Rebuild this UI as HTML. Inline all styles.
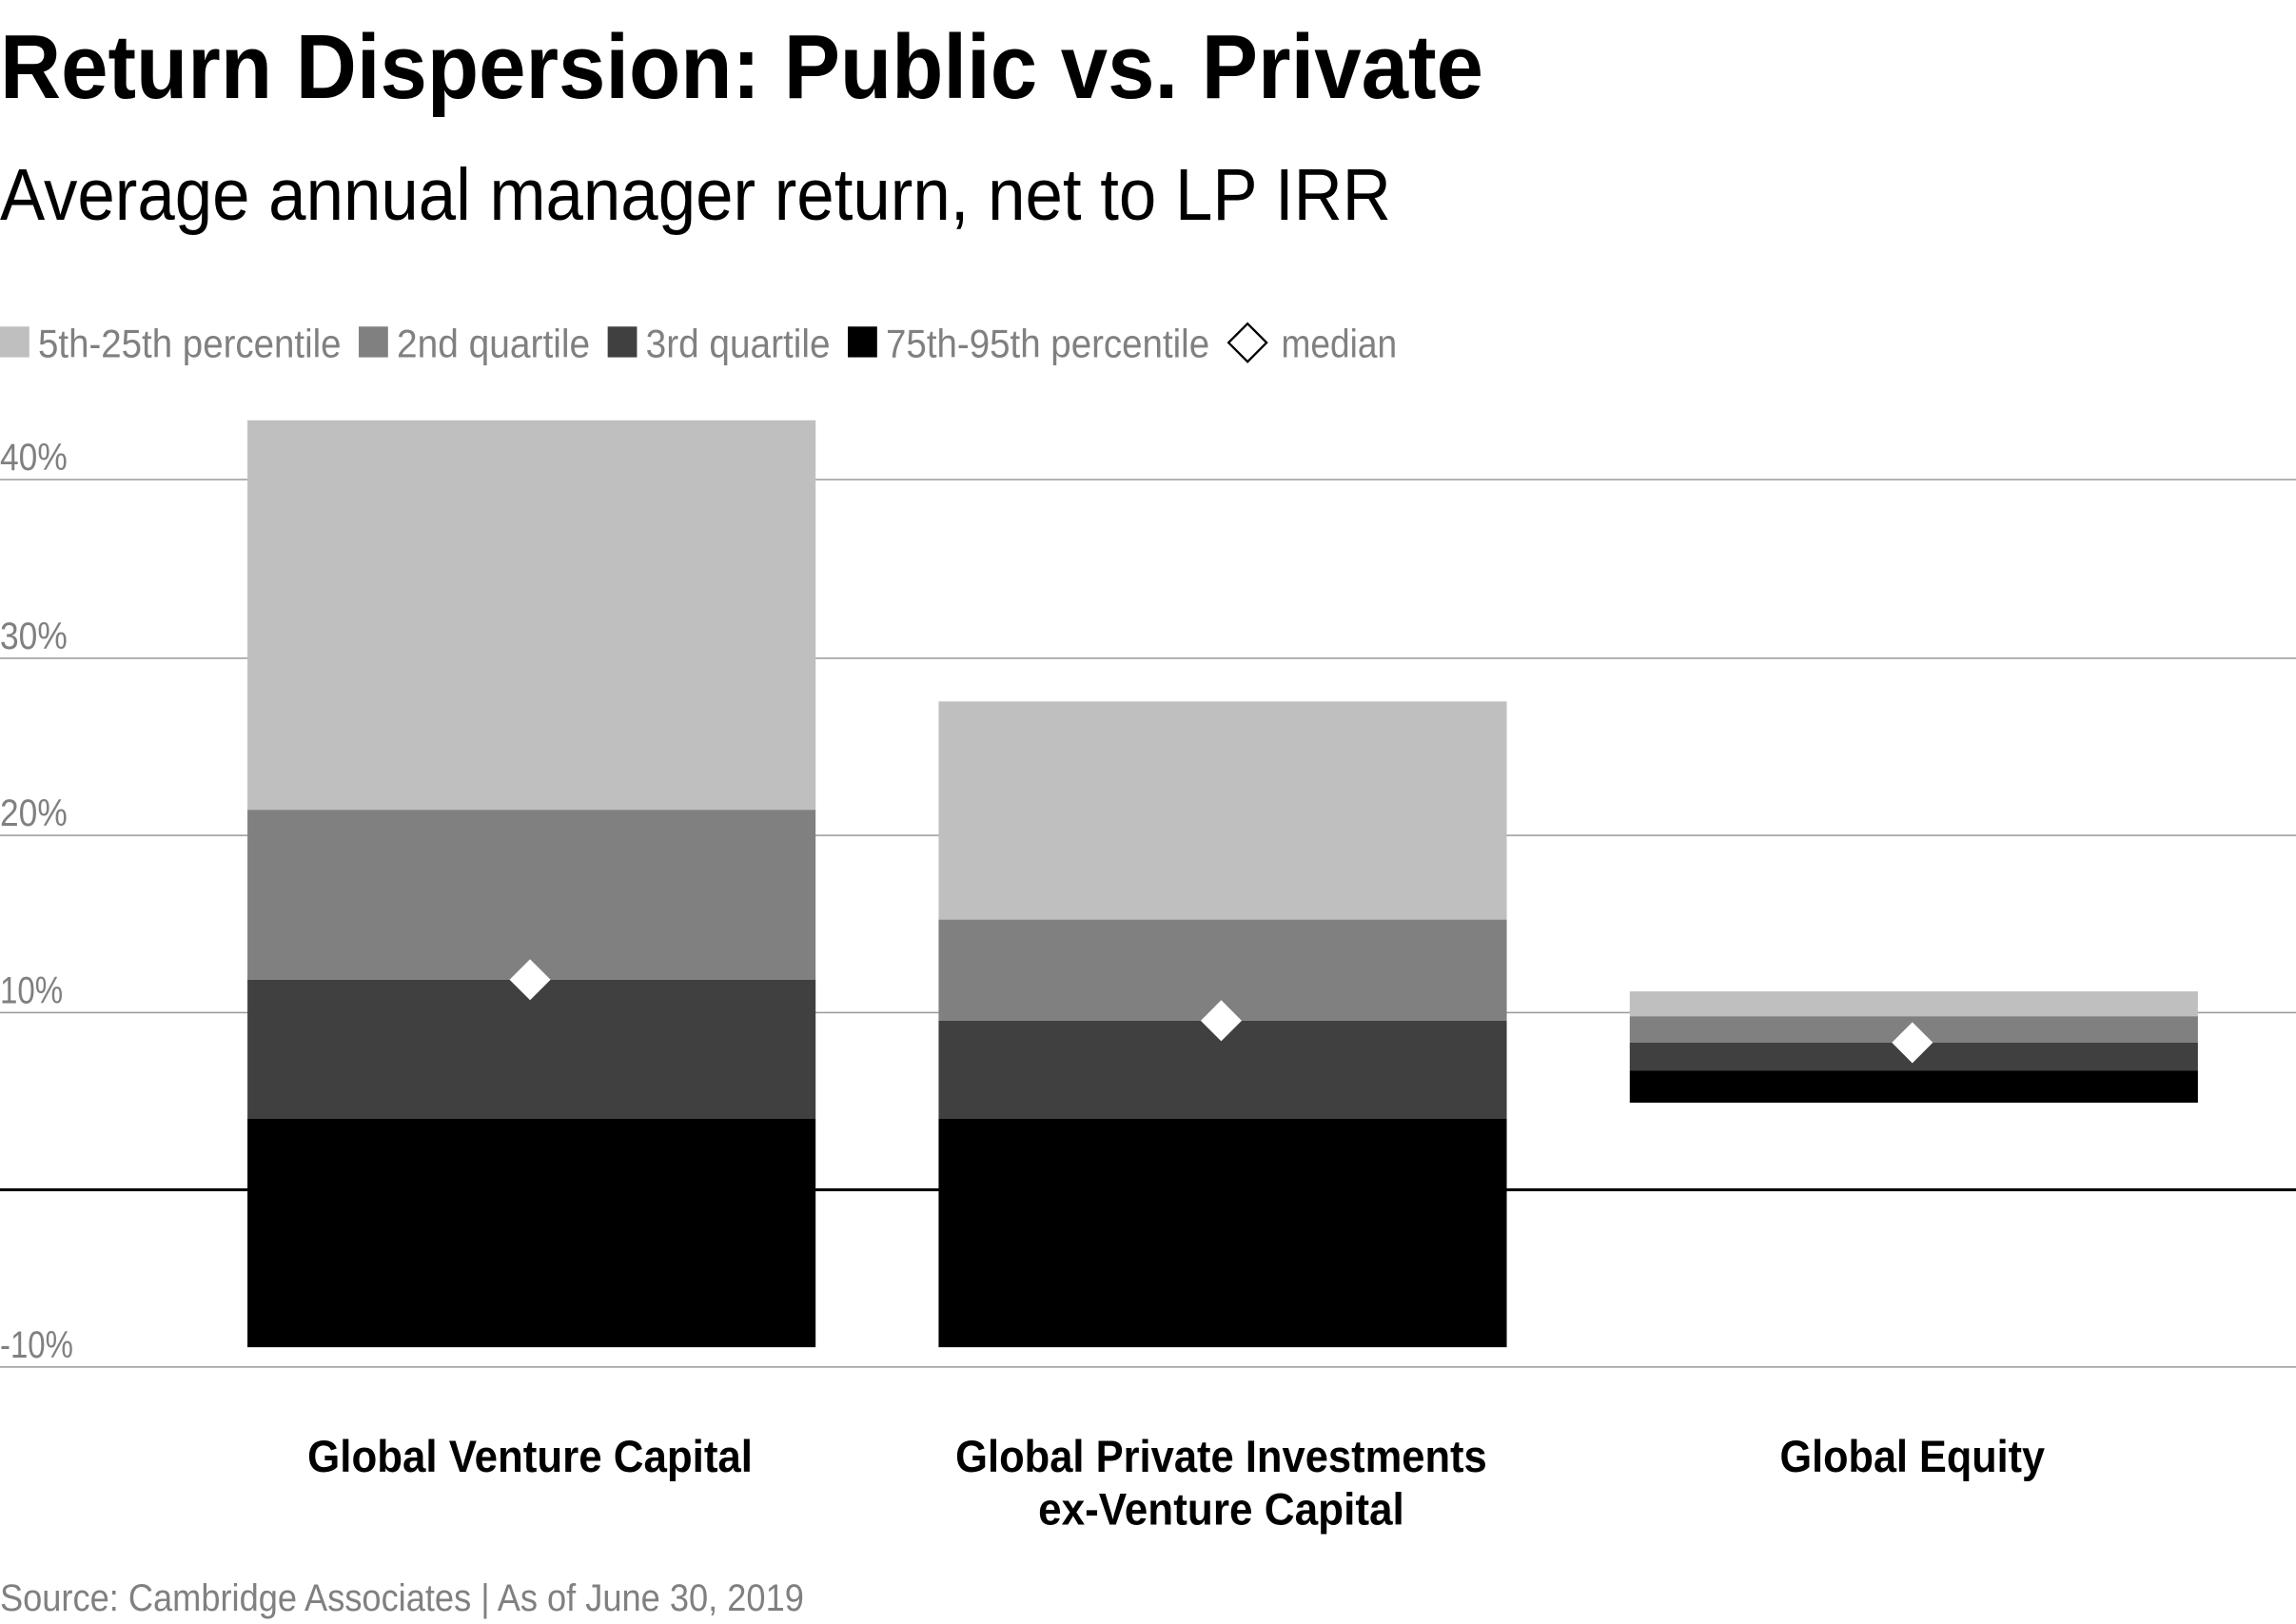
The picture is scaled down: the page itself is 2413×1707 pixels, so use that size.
<!DOCTYPE html>
<html><head><meta charset="utf-8"><style>
html,body{margin:0;padding:0;background:#fff;}
svg{display:block;}
text{font-family:"Liberation Sans Narrow","Liberation Sans",sans-serif;}
</style></head><body>
<svg width="2413" height="1707" viewBox="0 0 1568 1109" preserveAspectRatio="none" xmlns="http://www.w3.org/2000/svg">
<rect width="1568" height="1109" fill="#fff"/>
<text x="0" y="67" font-size="62" font-weight="bold" fill="#000" textLength="1013" lengthAdjust="spacingAndGlyphs">Return Dispersion: Public vs. Private</text>
<text x="0" y="150" font-size="50" fill="#000" textLength="950" lengthAdjust="spacingAndGlyphs">Average annual manager return, net to LP IRR</text>
<g font-size="27" fill="#808080">
<rect x="0" y="223" width="20" height="21" fill="#bfbfbf"/>
<text x="26" y="244" textLength="207" lengthAdjust="spacingAndGlyphs">5th-25th percentile</text>
<rect x="245" y="223" width="20" height="21" fill="#808080"/>
<text x="271" y="244" textLength="132" lengthAdjust="spacingAndGlyphs">2nd quartile</text>
<rect x="415" y="223" width="20" height="21" fill="#404040"/>
<text x="441" y="244" textLength="126" lengthAdjust="spacingAndGlyphs">3rd quartile</text>
<rect x="579" y="223" width="20" height="21" fill="#000"/>
<text x="605" y="244" textLength="221" lengthAdjust="spacingAndGlyphs">75th-95th percentile</text>
<polygon points="852,221 865,234 852,247 839,234" fill="#fff" stroke="#000" stroke-width="1.5"/>
<text x="875" y="244" textLength="79" lengthAdjust="spacingAndGlyphs">median</text>
</g>
<g stroke="#999" stroke-width="1">
<line x1="0" y1="327.5" x2="1568" y2="327.5"/>
<line x1="0" y1="449.5" x2="1568" y2="449.5"/>
<line x1="0" y1="570.5" x2="1568" y2="570.5"/>
<line x1="0" y1="691.5" x2="1568" y2="691.5"/>
<line x1="0" y1="933.5" x2="1568" y2="933.5"/>
</g>
<g font-size="26" fill="#808080">
<text x="0" y="321" textLength="46" lengthAdjust="spacingAndGlyphs">40%</text>
<text x="0" y="443" textLength="46" lengthAdjust="spacingAndGlyphs">30%</text>
<text x="0" y="564" textLength="46" lengthAdjust="spacingAndGlyphs">20%</text>
<text x="0" y="685" textLength="43" lengthAdjust="spacingAndGlyphs">10%</text>
<text x="0" y="927" textLength="50" lengthAdjust="spacingAndGlyphs">-10%</text>
</g>
<!-- VC -->
<rect x="169" y="287" width="388" height="266" fill="#bfbfbf"/>
<rect x="169" y="553" width="388" height="116" fill="#808080"/>
<rect x="169" y="669" width="388" height="95" fill="#404040"/>
<rect x="169" y="764" width="388" height="156" fill="#000"/>
<!-- PI -->
<rect x="641" y="479" width="388" height="149" fill="#bfbfbf"/>
<rect x="641" y="628" width="388" height="69" fill="#808080"/>
<rect x="641" y="697" width="388" height="67" fill="#404040"/>
<rect x="641" y="764" width="388" height="156" fill="#000"/>
<!-- GE -->
<rect x="1113" y="677" width="388" height="17" fill="#bfbfbf"/>
<rect x="1113" y="694" width="388" height="18" fill="#808080"/>
<rect x="1113" y="712" width="388" height="19" fill="#404040"/>
<rect x="1113" y="731" width="388" height="22" fill="#000"/>
<line x1="0" y1="812.5" x2="1568" y2="812.5" stroke="#000" stroke-width="2"/>
<g fill="#fff">
<polygon points="362,655 376,669 362,683 348,669"/>
<polygon points="834,683 848,697 834,711 820,697"/>
<polygon points="1306,698 1320,712 1306,726 1292,712"/>
</g>
<g font-size="31" font-weight="bold" fill="#000" text-anchor="middle">
<text x="362" y="1005" textLength="304" lengthAdjust="spacingAndGlyphs">Global Venture Capital</text>
<text x="834" y="1005" textLength="363" lengthAdjust="spacingAndGlyphs">Global Private Investments</text>
<text x="834" y="1041" textLength="250" lengthAdjust="spacingAndGlyphs">ex-Venture Capital</text>
<text x="1306" y="1005" textLength="181" lengthAdjust="spacingAndGlyphs">Global Equity</text>
</g>
<text x="0" y="1100" font-size="26" fill="#808080" textLength="549" lengthAdjust="spacingAndGlyphs">Source: Cambridge Associates | As of June 30, 2019</text>
</svg>
</body></html>
